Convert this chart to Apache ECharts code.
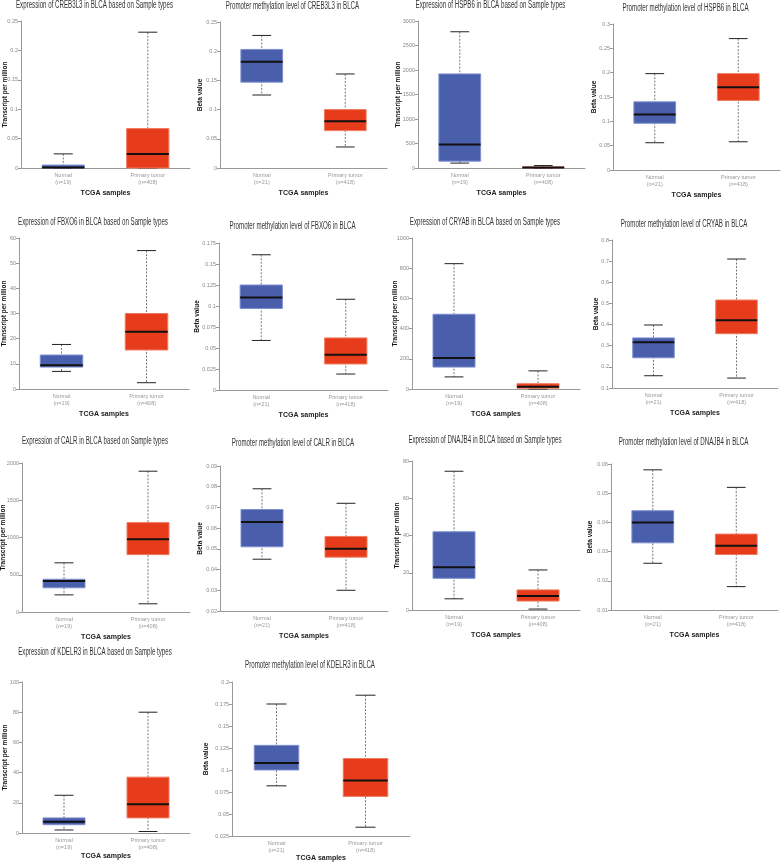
<!DOCTYPE html>
<html><head><meta charset="utf-8">
<script src="https://cdn.jsdelivr.net/npm/echarts@6/dist/echarts.min.js"></script>
<style>html,body{margin:0;padding:0;background:#fff}#c{width:782px;height:862px}</style>
</head><body><div id="c"></div>
<script>
const genes = ['CREB3L3','HSPB6','FBXO6','CRYAB','CALR','DNAJB4','KDELR3'];
const expCategories = ['Normal\n(n=19)','Primary tumor\n(n=408)'];
const methCategories = ['Normal\n(n=21)','Primary tumor\n(n=418)'];
// each box: [low whisker, Q1, median, Q3, high whisker]
const expNormal = [
  [0, 0, 0.001, 0.005, 0.024],
  [100, 140, 480, 1920, 2780],
  [7, 8.7, 9.4, 13.5, 17.7],
  [80, 145, 205, 495, 830],
  [230, 325, 415, 440, 660],
  [6, 17, 23, 42, 74.5],
  [2, 5.5, 7.5, 10, 25]
];
const expTumor = [
  [0, 0, 0.024, 0.067, 0.231],
  [0, 5, 12, 22, 50],
  [2.5, 15.5, 22.7, 30, 55],
  [0, 5, 15, 35, 120],
  [110, 770, 975, 1200, 1890],
  [0.5, 4.8, 7.5, 10.8, 21.5],
  [1, 10, 19, 37, 80]
];
const methNormal = [
  [0.125, 0.147, 0.182, 0.203, 0.227],
  [0.056, 0.096, 0.114, 0.140, 0.198],
  [0.059, 0.097, 0.110, 0.125, 0.161],
  [0.158, 0.243, 0.316, 0.337, 0.398],
  [0.045, 0.051, 0.063, 0.069, 0.079],
  [0.026, 0.033, 0.040, 0.044, 0.058],
  [0.082, 0.100, 0.108, 0.128, 0.175]
];
const methTumor = [
  [0.036, 0.064, 0.080, 0.100, 0.161],
  [0.058, 0.143, 0.170, 0.198, 0.270],
  [0.019, 0.031, 0.042, 0.062, 0.108],
  [0.147, 0.357, 0.420, 0.516, 0.710],
  [0.030, 0.046, 0.050, 0.056, 0.072],
  [0.018, 0.029, 0.032, 0.036, 0.052],
  [0.035, 0.070, 0.088, 0.113, 0.185]
];
// y-axis ticks: [min, max, interval]
const expTicks = [[0,0.25,0.05],[0,3000,500],[0,60,10],[0,1000,200],[0,2000,500],[0,80,20],[0,100,20]];
const methTicks = [[0,0.25,0.05],[0,0.3,0.05],[0,0.175,0.025],[0.1,0.8,0.1],[0.02,0.09,0.01],[0.01,0.06,0.01],[0.025,0.2,0.025]];

// layout per panel: [left, top, right, bottom, titleY, yNameGap, xNameGap]
const layout = [
  [21,21,190,168,5,12,22],[220,22,387,168,6,16,22],[418,21,585,168,5,16,22],[613,24,780,170,8,15,22],
  [19,238,189,389,222,11,22],[219,243,388,390,226,18,22],[412,238,580,389,222,13,22],[612,240,778,388,224,12,22],
  [22,463,190,612,441,15,22],[220,466,388,611,443,16,22],[412,461,580,610,440,11,22],[611,464,778,610,442,17,22],
  [22,682,190,833,652,13,20],[232,682,410,836,665,22,19]
];

const BLUE = '#4a5fac', BLUE_B = '#7f8fd0', RED = '#e63c1b', RED_B = '#f07a5e';
const sansFont = '"Liberation Sans", Arial, sans-serif';
const TITLE_FS = 10;
const measureCtx = document.createElement('canvas').getContext('2d');
measureCtx.font = TITLE_FS + 'px "Liberation Sans"';
const titleScale = 157 / measureCtx.measureText('Expression of CREB3L3 in BLCA based on Sample types').width;

function fmt(v) { return String(+(+v).toPrecision(8)); }

function renderBox(params, api) {
  const xi = api.value(0);
  const lo = api.coord([xi, api.value(1)]);
  const q1 = api.coord([xi, api.value(2)]);
  const md = api.coord([xi, api.value(3)]);
  const q3 = api.coord([xi, api.value(4)]);
  const hi = api.coord([xi, api.value(5)]);
  const bw = api.size([1, 0])[0] * 0.5;
  const cw = bw * 0.45;
  const cx = lo[0];
  const fill = xi === 0 ? BLUE : RED;
  const border = xi === 0 ? BLUE_B : RED_B;
  return {
    type: 'group',
    children: [
      {type:'line', shape:{x1:cx,y1:hi[1],x2:cx,y2:lo[1]}, style:{stroke:'#777',lineWidth:1,lineDash:[2,1.5]}},
      {type:'line', shape:{x1:cx-cw/2,y1:hi[1],x2:cx+cw/2,y2:hi[1]}, style:{stroke:'#222',lineWidth:1}},
      {type:'line', shape:{x1:cx-cw/2,y1:lo[1],x2:cx+cw/2,y2:lo[1]}, style:{stroke:'#222',lineWidth:1}},
      {type:'rect', shape:{x:cx-bw/2,y:q3[1],width:bw,height:Math.max(q1[1]-q3[1],0.5)}, style:{fill:fill,stroke:border,lineWidth:1}},
      {type:'line', shape:{x1:cx-bw/2,y1:md[1],x2:cx+bw/2,y2:md[1]}, style:{stroke:'#111',lineWidth:2}}
    ]
  };
}

const grids = [], xAxes = [], yAxes = [], series = [], graphics = [];
let p = 0;
genes.forEach((g, i) => {
  const panels = [
    {title:'Expression of ' + g + ' in BLCA based on Sample types', yName:'Transcript per million', cats: expCategories, ticks: expTicks[i], data:[[0].concat(expNormal[i]),[1].concat(expTumor[i])]},
    {title:'Promoter methylation level of ' + g + ' in BLCA', yName:'Beta value', cats: methCategories, ticks: methTicks[i], data:[[0].concat(methNormal[i]),[1].concat(methTumor[i])]}
  ];
  panels.forEach(pn => {
    const L = layout[p];
    grids.push({left:L[0], top:L[1], width:L[2]-L[0], height:L[3]-L[1], containLabel:false, outerBoundsMode:'none'});
    xAxes.push({
      type:'category', gridIndex:p, data:pn.cats, boundaryGap:true,
      axisLine:{lineStyle:{color:'#999',width:1}}, axisTick:{show:false},
      axisLabel:{fontSize:5.5, color:'#999', lineHeight:7, margin:4, fontFamily:sansFont},
      name:'TCGA samples', nameLocation:'middle', nameGap:L[6],
      nameTextStyle:{fontSize:7, fontWeight:'bold', color:'#222', fontFamily:sansFont}
    });
    yAxes.push({
      type:'value', gridIndex:p, min:pn.ticks[0], max:pn.ticks[1], interval:pn.ticks[2],
      axisLine:{show:true, lineStyle:{color:'#999',width:1}}, axisTick:{show:true,length:3,lineStyle:{color:'#999'}},
      splitLine:{show:false},
      axisLabel:{fontSize:5.5, color:'#888', margin:3, fontFamily:sansFont, formatter:fmt},
      name:pn.yName, nameLocation:'middle', nameGap:L[5], nameMoveOverlap:false,
      nameTextStyle:{fontSize:6.5, fontWeight:'bold', color:'#111', fontFamily:sansFont}
    });
    series.push({
      type:'custom', xAxisIndex:p, yAxisIndex:p, renderItem:renderBox,
      encode:{x:0, y:[1,2,3,4,5]}, data:pn.data, silent:true
    });
    graphics.push({
      type:'text', x:(L[0]+L[2])/2 - 11, y:L[4], scaleX:titleScale,
      style:{text:pn.title, align:'center', verticalAlign:'middle', fontSize:TITLE_FS, fill:'#333', fontFamily:sansFont}
    });
    p++;
  });
});

const chart = echarts.init(document.getElementById('c'), null, {renderer:'canvas'});
chart.setOption({
  animation:false,
  backgroundColor:'#fff',
  grid:grids, xAxis:xAxes, yAxis:yAxes, series:series, graphic:graphics
});
</script>
</body></html>
